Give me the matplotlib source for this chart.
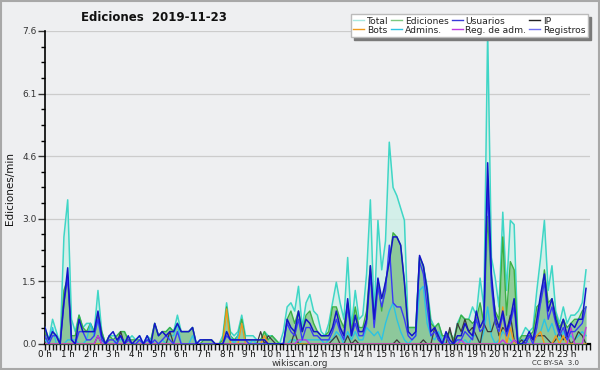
import numpy as np
import matplotlib
matplotlib.use("Agg")
import matplotlib.pyplot as plt
from matplotlib.ticker import FixedLocator, MultipleLocator
from matplotlib.lines import Line2D

# edits per minute, 10-minute bins (6 per hour), 2019-11-23
total = [0.4, 0.1, 0.6, 0.3, 0.0, 2.6,
         3.5, 0.6, 0.3, 0.7, 0.4, 0.5,
         0.5, 0.3, 1.3, 0.3, 0.0, 0.2,
         0.2, 0.2, 0.3, 0.3, 0.1, 0.2,
         0.1, 0.2, 0.0, 0.2, 0.1, 0.5,
         0.2, 0.3, 0.3, 0.4, 0.3, 0.7,
         0.3, 0.3, 0.3, 0.4, 0.0, 0.1,
         0.1, 0.1, 0.1, 0.0, 0.0, 0.2,
         1.0, 0.3, 0.2, 0.3, 0.7, 0.2,
         0.2, 0.2, 0.1, 0.1, 0.3, 0.2,
         0.2, 0.1, 0.0, 0.3, 0.9, 1.0,
         0.8, 1.4, 0.4, 1.0, 1.2, 0.8,
         0.7, 0.3, 0.2, 0.5, 1.0, 1.5,
         1.0, 0.6, 2.1, 0.4, 1.3, 0.6,
         0.7, 1.7, 3.5, 0.7, 3.0, 1.8,
         2.5, 4.9, 3.8, 3.6, 3.3, 3.0,
         0.4, 0.4, 0.4, 2.1, 1.9, 1.4,
         0.6, 0.4, 0.5, 0.2, 0.2, 0.3,
         0.1, 0.5, 0.7, 0.6, 0.6, 0.9,
         0.7, 1.6, 0.9, 7.6, 2.1, 1.6,
         0.9, 3.2, 1.3, 3.0, 2.9, 0.1,
         0.2, 0.4, 0.3, 0.4, 1.3, 2.1,
         3.0, 1.3, 1.9, 0.8, 0.5, 0.9,
         0.5, 0.7, 0.7, 0.8, 1.0, 1.8]

ediciones = [0.3, 0.1, 0.3, 0.2, 0.0, 1.3,
             1.6, 0.2, 0.2, 0.7, 0.4, 0.3,
             0.5, 0.3, 0.7, 0.3, 0.0, 0.2,
             0.1, 0.2, 0.3, 0.3, 0.1, 0.1,
             0.1, 0.1, 0.0, 0.1, 0.1, 0.5,
             0.2, 0.3, 0.3, 0.4, 0.3, 0.5,
             0.3, 0.3, 0.3, 0.4, 0.0, 0.0,
             0.1, 0.1, 0.1, 0.0, 0.0, 0.1,
             0.9, 0.2, 0.1, 0.2, 0.6, 0.1,
             0.1, 0.1, 0.1, 0.1, 0.3, 0.1,
             0.2, 0.1, 0.0, 0.0, 0.6, 0.8,
             0.5, 0.8, 0.3, 0.7, 0.8, 0.5,
             0.3, 0.2, 0.2, 0.3, 0.9, 0.9,
             0.6, 0.4, 1.0, 0.3, 0.9, 0.4,
             0.4, 0.8, 1.9, 0.5, 1.5, 0.8,
             1.5, 2.0, 2.7, 2.6, 2.4, 1.5,
             0.4, 0.4, 0.4, 2.1, 1.9, 1.3,
             0.5, 0.4, 0.5, 0.2, 0.2, 0.3,
             0.1, 0.4, 0.7, 0.6, 0.6, 0.5,
             0.6, 1.0, 0.5, 3.1, 1.5, 0.8,
             0.6, 2.6, 0.7, 2.0, 1.8, 0.0,
             0.2, 0.2, 0.2, 0.3, 0.9, 1.0,
             1.8, 1.0, 1.1, 0.7, 0.4, 0.6,
             0.4, 0.5, 0.6, 0.6, 0.8, 0.9]

usuarios = [0.4, 0.1, 0.3, 0.2, 0.0, 1.0,
            1.85, 0.1, 0.0, 0.6, 0.3, 0.3,
            0.3, 0.3, 0.8, 0.2, 0.0, 0.2,
            0.3, 0.1, 0.2, 0.0, 0.2, 0.0,
            0.1, 0.2, 0.0, 0.2, 0.0, 0.5,
            0.2, 0.3, 0.2, 0.3, 0.3, 0.5,
            0.3, 0.3, 0.3, 0.4, 0.0, 0.1,
            0.1, 0.1, 0.1, 0.0, 0.0, 0.0,
            0.3, 0.1, 0.1, 0.1, 0.1, 0.1,
            0.1, 0.1, 0.1, 0.1, 0.1, 0.0,
            0.0, 0.0, 0.0, 0.0, 0.6, 0.4,
            0.3, 0.8, 0.3, 0.6, 0.5, 0.3,
            0.3, 0.2, 0.2, 0.2, 0.4, 0.8,
            0.4, 0.2, 1.1, 0.2, 0.7, 0.3,
            0.3, 0.6, 1.9, 0.6, 1.6, 1.1,
            1.5, 2.0, 2.6, 2.6, 2.4, 1.5,
            0.3, 0.2, 0.3, 2.15, 1.9, 1.3,
            0.3, 0.4, 0.2, 0.0, 0.3, 0.1,
            0.0, 0.2, 0.2, 0.5, 0.3, 0.2,
            0.8, 0.4, 0.6, 4.4, 1.7, 0.7,
            0.4, 0.8, 0.3, 0.6, 1.1, 0.0,
            0.0, 0.1, 0.3, 0.1, 0.6, 1.2,
            1.7, 0.8, 1.1, 0.6, 0.3, 0.6,
            0.2, 0.5, 0.4, 0.6, 0.6, 1.35]

ip = [0.0, 0.0, 0.0, 0.0, 0.0, 0.0,
      0.0, 0.0, 0.0, 0.0, 0.0, 0.0,
      0.0, 0.0, 0.2, 0.0, 0.0, 0.0,
      0.0, 0.0, 0.3, 0.0, 0.1, 0.0,
      0.0, 0.0, 0.0, 0.0, 0.0, 0.0,
      0.0, 0.0, 0.0, 0.3, 0.0, 0.0,
      0.0, 0.0, 0.0, 0.0, 0.0, 0.0,
      0.0, 0.0, 0.0, 0.0, 0.0, 0.0,
      0.0, 0.0, 0.0, 0.0, 0.0, 0.0,
      0.0, 0.0, 0.0, 0.3, 0.0, 0.2,
      0.1, 0.0, 0.0, 0.0, 0.0, 0.0,
      0.3, 0.0, 0.0, 0.0, 0.0, 0.0,
      0.0, 0.0, 0.0, 0.0, 0.1, 0.2,
      0.0, 0.0, 0.2, 0.0, 0.1, 0.0,
      0.0, 0.0, 0.0, 0.0, 0.0, 0.0,
      0.0, 0.0, 0.0, 0.1, 0.0, 0.0,
      0.0, 0.0, 0.0, 0.0, 0.1, 0.0,
      0.0, 0.4, 0.1, 0.0, 0.0, 0.4,
      0.0, 0.5, 0.3, 0.6, 0.3, 0.4,
      0.2, 0.0, 0.5, 0.3, 0.3, 0.6,
      0.2, 0.4, 0.3, 0.7, 0.1, 0.0,
      0.1, 0.0, 0.2, 0.1, 0.2, 0.2,
      0.2, 0.1, 0.0, 0.1, 0.3, 0.1,
      0.2, 0.0, 0.1, 0.3, 0.2, 0.0]

admins = [0.1, 0.0, 0.4, 0.0, 0.0, 0.0,
          0.1, 0.1, 0.1, 0.0, 0.0, 0.1,
          0.5, 0.2, 0.6, 0.1, 0.0, 0.0,
          0.0, 0.1, 0.1, 0.1, 0.0, 0.0,
          0.0, 0.1, 0.0, 0.1, 0.1, 0.0,
          0.0, 0.1, 0.0, 0.2, 0.2, 0.5,
          0.0, 0.0, 0.0, 0.2, 0.0, 0.0,
          0.0, 0.0, 0.0, 0.0, 0.0, 0.0,
          0.3, 0.2, 0.0, 0.2, 0.5, 0.0,
          0.0, 0.1, 0.0, 0.0, 0.0, 0.0,
          0.0, 0.0, 0.0, 0.0, 0.0, 0.1,
          0.1, 0.0, 0.1, 0.1, 0.1, 0.1,
          0.1, 0.1, 0.0, 0.1, 0.1, 0.3,
          0.2, 0.0, 0.3, 0.1, 0.3, 0.1,
          0.1, 0.4, 0.3, 0.2, 0.3, 0.1,
          0.5, 0.8, 1.0, 0.6, 0.3, 0.1,
          0.0, 0.1, 0.2, 1.3, 1.4, 0.5,
          0.2, 0.1, 0.3, 0.1, 0.0, 0.0,
          0.0, 0.1, 0.0, 0.1, 0.0, 0.2,
          0.2, 0.0, 0.3, 0.9, 0.2, 0.0,
          0.1, 0.3, 0.2, 0.1, 0.0, 0.0,
          0.1, 0.1, 0.0, 0.0, 0.2, 0.3,
          0.6, 0.3, 0.5, 0.2, 0.1, 0.3,
          0.1, 0.2, 0.1, 0.2, 0.3, 0.2]

registros = [0.2, 0.0, 0.2, 0.2, 0.0, 1.0,
             1.6, 0.1, 0.0, 0.3, 0.3, 0.1,
             0.1, 0.2, 0.6, 0.1, 0.0, 0.1,
             0.1, 0.0, 0.2, 0.0, 0.1, 0.0,
             0.0, 0.1, 0.0, 0.1, 0.0, 0.1,
             0.0, 0.1, 0.2, 0.1, 0.0, 0.3,
             0.0, 0.0, 0.0, 0.0, 0.0, 0.0,
             0.0, 0.0, 0.0, 0.0, 0.0, 0.0,
             0.2, 0.1, 0.1, 0.1, 0.1, 0.1,
             0.0, 0.0, 0.0, 0.0, 0.0, 0.0,
             0.0, 0.0, 0.0, 0.0, 0.5, 0.3,
             0.2, 0.6, 0.1, 0.4, 0.4, 0.2,
             0.2, 0.1, 0.1, 0.1, 0.3, 0.6,
             0.3, 0.1, 0.9, 0.2, 0.5, 0.2,
             0.2, 0.5, 1.7, 0.4, 1.4, 0.9,
             1.3, 2.4, 1.0, 0.9, 0.9, 0.6,
             0.2, 0.1, 0.2, 2.0, 1.7, 0.9,
             0.2, 0.3, 0.1, 0.0, 0.2, 0.0,
             0.0, 0.1, 0.1, 0.3, 0.2, 0.1,
             0.6, 0.3, 0.4, 3.8, 1.4, 0.5,
             0.3, 0.7, 0.2, 0.5, 0.9, 0.0,
             0.0, 0.0, 0.2, 0.0, 0.4, 1.0,
             1.5, 0.6, 0.9, 0.5, 0.2, 0.4,
             0.1, 0.3, 0.3, 0.4, 0.5, 0.9]

bots = [0.0] * 144
for i, v in [(48, 0.85), (52, 0.5), (58, 0.2), (121, 0.9), (123, 0.4),
             (130, 0.2), (131, 0.3), (135, 0.2), (137, 0.2)]:
    bots[i] = v

reg_adm = [0.0] * 144
for i, v in [(14, 0.2), (67, 0.1), (68, 0.1), (69, 0.1), (110, 0.1),
             (121, 0.1), (124, 0.1), (139, 0.4), (143, 0.4)]:
    reg_adm[i] = v

hour_labels = ["%d h" % h for h in range(24)]
ymax = 7.6

bg = "#eeeff1"
x = np.arange(144) / 6.0

fig = plt.figure(figsize=(6, 3.7), dpi=100, facecolor=bg)
ax = fig.add_axes([0.075, 0.0703, 0.908, 0.846], facecolor=bg)

# filled areas
ax.fill_between(x, total, color="#cdf0e8", alpha=0.8, lw=0, zorder=2)
ax.fill_between(x, ediciones, color="#86c88c", alpha=0.85, lw=0, zorder=3)
ax.fill_between(x, usuarios, color="#6a8fb0", alpha=0.08, lw=0, zorder=4)

# lines
ax.plot(x, total, color="#3fd6c6", lw=1.1, zorder=5)
ax.plot(x, ediciones, color="#3cb043", lw=1.0, zorder=6)
ax.plot(x, admins, color="#2cc3e3", lw=1.0, zorder=7)
ax.plot(x, ip, color="#3c3c3c", lw=0.9, zorder=8)
ax.plot(x, bots, color="#f09a1c", lw=1.0, zorder=9)
ax.plot(x, reg_adm, color="#c03ce0", lw=1.0, zorder=10)
ax.plot(x, registros, color="#3a3af5", lw=1.0, zorder=11)
ax.plot(x, usuarios, color="#1414c8", lw=1.1, zorder=12)

ax.set_xlim(0, 24)
ax.set_ylim(0, ymax)

ax.xaxis.set_major_locator(FixedLocator(range(24)))
ax.set_xticklabels(hour_labels)
ax.xaxis.set_minor_locator(MultipleLocator(1 / 6))
ax.tick_params(axis="x", which="both", length=4, width=1, direction="out",
               labelsize=6.3, pad=0.5, colors="#111111")

yt = np.linspace(0, ymax, 6)
ax.set_yticks(yt)
ax.set_yticklabels(["%.1f" % v for v in yt])
ax.yaxis.set_minor_locator(MultipleLocator(ymax / 20))
ax.tick_params(axis="y", which="major", length=5, width=1, labelsize=6.5,
               pad=1, colors="#333333")
ax.tick_params(axis="y", which="minor", length=3, width=1)
ax.grid(axis="y", color="#cccccc", lw=0.9)
ax.set_axisbelow(True)
for g in ax.get_ygridlines():
    g.set_zorder(1)

for s in ["top", "right"]:
    ax.spines[s].set_visible(False)
ax.spines["left"].set_linewidth(1.2)
ax.spines["bottom"].set_linewidth(1.6)

# legend (column-wise order)
names = ["Total", "Bots", "Ediciones", "Admins.", "Usuarios", "Reg. de adm.",
         "IP", "Registros"]
cols = ["#a8e8e0", "#f09a1c", "#7cc87f", "#2cc3e3", "#3a3ad8", "#c03ce0",
        "#222222", "#7070f0"]
handles = [Line2D([], [], color=c, lw=1) for c in cols]
leg = fig.legend(handles, names, ncol=4, loc="upper right",
                 bbox_to_anchor=(0.988, 0.975), fontsize=6.6, frameon=True,
                 fancybox=False, edgecolor="#bbbbbb", framealpha=1,
                 handlelength=1.2, handletextpad=0.3, columnspacing=0.3,
                 labelspacing=0.0, borderpad=0.3,
                 shadow={"ox": 2.2, "oy": -2.2, "facecolor": "#7a7a7a",
                         "edgecolor": "#7a7a7a", "alpha": 1})
for t in leg.get_texts():
    t.set_color("#222222")

fig.text(0.257, 0.953, "Ediciones  2019-11-23", ha="center", va="center",
         fontsize=8.5, fontweight="bold", color="#111111")
fig.text(0.017, 0.49, "Ediciones/min", rotation=90, ha="center", va="center",
         fontsize=7.5, color="#111111")
fig.text(0.5, 0.017, "wikiscan.org", ha="center", va="center", fontsize=6.5,
         color="#333333")
fig.text(0.925, 0.019, "CC BY-SA  3.0", ha="center", va="center",
         fontsize=5, color="#333333")

# outer border
fig.patches.append(plt.Rectangle((0.002, 0.003), 0.996, 0.994,
                                 transform=fig.transFigure, fill=False,
                                 edgecolor="#a8a8a8", lw=1.5))

fig.savefig("out.png", dpi=100, facecolor=bg)
